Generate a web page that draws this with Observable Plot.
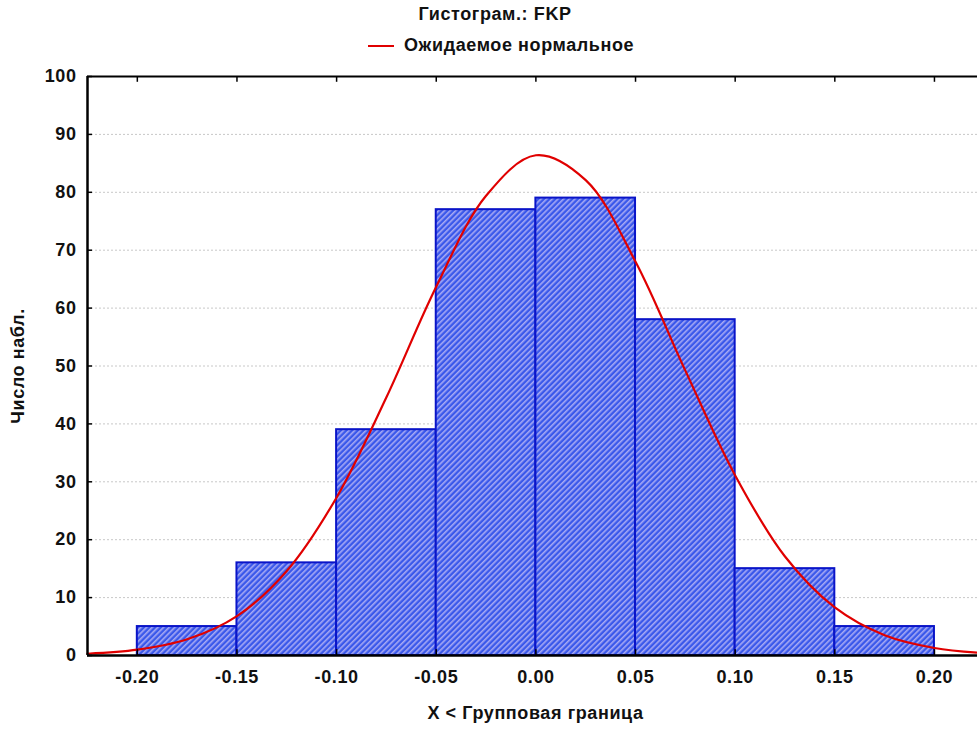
<!DOCTYPE html>
<html>
<head>
<meta charset="utf-8">
<script src="https://cdn.jsdelivr.net/npm/d3@7"></script>
<script src="https://cdn.jsdelivr.net/npm/@observablehq/plot@0.6"></script>
<style>
  html, body { margin: 0; padding: 0; background: #fff; }
  body { width: 977px; height: 733px; overflow: hidden; font-family: "Liberation Sans", Arial, sans-serif; font-weight: bold; color: #111; letter-spacing: 0.6px; }
  #head { position: relative; height: 60px; }
  #title { position: absolute; top: 4px; left: 0; width: 990px; text-align: center; font-size: 18px; }
  #legend { position: absolute; top: 35px; left: 368px; font-size: 18px; display: flex; align-items: center; }
  #legend .sw { width: 26px; height: 2px; background: #e00000; margin-right: 10px; }
  svg { display: block; }
</style>
</head>
<body>
<div id="head">
  <div id="title">Гистограм.: FKP</div>
  <div id="legend"><span class="sw"></span><span>Ожидаемое нормальное</span></div>
</div>
<div id="chart"></div>
<script>
// Histogram bins (lower / upper bounds) and counts
const binLower = [-0.20, -0.15, -0.10, -0.05, 0.00, 0.05, 0.10, 0.15];
const binUpper = [-0.15, -0.10, -0.05, 0.00, 0.05, 0.10, 0.15, 0.20];
const counts   = [5, 16, 39, 77, 79, 58, 15, 5];

// Expected normal curve
const curveX = [-0.225, -0.20, -0.175, -0.15, -0.125, -0.10, -0.075, -0.05, -0.025, 0.00, 0.025, 0.05, 0.075, 0.10, 0.125, 0.15, 0.175, 0.20, 0.225];
const curveY = [0.3, 1.0, 2.8, 6.8, 14.6, 27.3, 44.6, 63.7, 79.4, 86.4, 82.1, 68.0, 49.2, 31.1, 17.1, 8.3, 3.5, 1.3, 0.4];

// Tick values
const xTicks = [-0.20, -0.15, -0.10, -0.05, 0.00, 0.05, 0.10, 0.15, 0.20];
const yTicks = [0, 10, 20, 30, 40, 50, 60, 70, 80, 90, 100];
const gridY  = [10, 20, 30, 40, 50, 60, 70, 80, 90];

const bars = binLower.map((lo, i) => ({lo, hi: binUpper[i], n: counts[i]}));
const curve = curveX.map((x, i) => ({x, y: curveY[i]}));

const xMin = -0.225, xMax = 0.2216;

const svg = Plot.plot({
  width: 977,
  height: 673,
  marginLeft: 87,
  marginRight: 0,
  marginTop: 16,
  marginBottom: 78,
  style: {fontFamily: "'Liberation Sans', Arial, sans-serif", fontSize: "18px", fontWeight: "bold", color: "#111", background: "#fff", letterSpacing: "0.6px"},
  x: {domain: [xMin, xMax]},
  y: {domain: [0, 100]},
  marks: [
    Plot.ruleY(gridY, {stroke: "#c8c8c8", strokeDasharray: "2,2", strokeWidth: 1}),
    Plot.rectY(bars, {x1: "lo", x2: "hi", y1: 0, y2: "n", fill: "url(#hatch)", stroke: "#0a14c8", strokeWidth: 2}),
    Plot.line(curve, {x: "x", y: "y", curve: "catmull-rom", stroke: "#e00000", strokeWidth: 2.2}),
    Plot.ruleY([0], {stroke: "#000", strokeWidth: 2.5}),
    Plot.ruleY([100], {stroke: "#000", strokeWidth: 2}),
    Plot.ruleX([xMin], {stroke: "#000", strokeWidth: 2.5}),
    Plot.ruleX(xTicks, {y1: 0, y2: 1, stroke: "#000", strokeWidth: 1.5}),
    Plot.ruleX(xTicks, {y1: 100, y2: 99, stroke: "#000", strokeWidth: 1.5}),
    Plot.ruleY(yTicks, {x1: xMin, x2: xMin + 0.0025, stroke: "#000", strokeWidth: 1.5}),
    Plot.axisX(xTicks, {tickSize: 0, tickPadding: 15, tickFormat: d => d.toFixed(2), label: null, fontSize: 18}),
    Plot.axisY(yTicks, {tickSize: 0, tickPadding: 11, label: null, fontSize: 18}),
    Plot.text(["X < Групповая граница"], {frameAnchor: "bottom", dx: 3, dy: 63, fontSize: 18}),
    Plot.text(["Число набл."], {frameAnchor: "left", textAnchor: "middle", dx: -69, rotate: -90, fontSize: 18})
  ]
});

// hatch pattern
const ns = "http://www.w3.org/2000/svg";
const defs = document.createElementNS(ns, "defs");
defs.innerHTML = `
  <pattern id="hatch" patternUnits="userSpaceOnUse" width="4" height="4" patternTransform="rotate(45)">
    <rect x="0" y="0" width="4" height="4" fill="#3a58ea"></rect>
    <rect x="0" y="0" width="1.6" height="4" fill="#a8aaf4"></rect>
  </pattern>`;
svg.insertBefore(defs, svg.firstChild);
document.getElementById("chart").appendChild(svg);
</script>
</body>
</html>
